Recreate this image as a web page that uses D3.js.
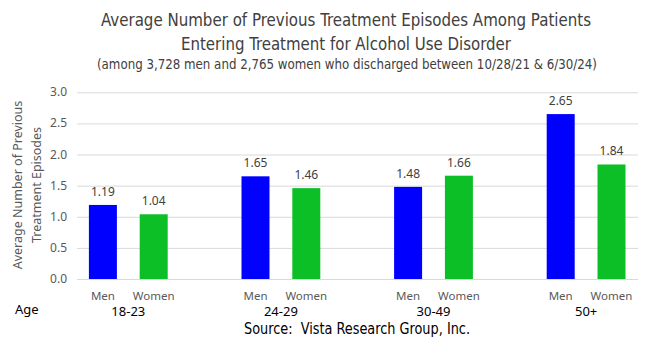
<html>
<head>
<script src="https://d3js.org/d3.v7.min.js"></script>
<style>
  body { margin: 0; background: #fff; }
  .grid line { stroke: #d9d9d9; }
  .grid .domain { display: none; }
</style>
</head>
<body>
<svg id="chart" width="650" height="353"></svg>
<script>
// data
const ageGroups = ["18-23", "24-29", "30-49", "50+"];
const sexes = ["Men", "Women"];
const menValues = [1.19, 1.65, 1.48, 2.65];
const womenValues = [1.04, 1.46, 1.66, 1.84];
const yTicks = [0, 0.5, 1.0, 1.5, 2.0, 2.5, 3.0];
const titleLines = ["Average Number of Previous Treatment Episodes Among Patients",
                    "Entering Treatment for Alcohol Use Disorder"];
const subtitle = "(among 3,728 men and 2,765 women who discharged between 10/28/21 & 6/30/24)";
const yTitle = ["Average Number of Previous", "Treatment Episodes"];

const colors = { Men: "#0000ff", Women: "#0dbf26" };
const rows = ageGroups.map((g, i) => ({ group: g, Men: menValues[i], Women: womenValues[i] }));

const svg = d3.select("#chart");
const condensed = "'Liberation Sans Narrow', 'DejaVu Sans Condensed', sans-serif";
const plain = "'Noto Sans', 'Open Sans', sans-serif";

const gridLeft = 77, gridRight = 638;
const y = d3.scaleLinear().domain([0, 3]).range([279, 92.3]);
const x0 = d3.scaleBand().domain(ageGroups).range([52, 662.4]);
const x1 = d3.scaleBand().domain(sexes)
  .range([x0.bandwidth() / 2 - 50.8, x0.bandwidth() / 2 + 50.8]);
const barW = 28;

// gridlines
svg.append("g").attr("class", "grid")
  .attr("transform", "translate(" + gridLeft + ",0)")
  .call(d3.axisLeft(y).tickValues(yTicks).tickSize(-(gridRight - gridLeft)).tickFormat(""))
  .call(g => g.selectAll(".tick line").attr("stroke", "#d9d9d9"));

// y tick labels
svg.append("g").selectAll("text").data(yTicks).join("text")
  .attr("x", 67).attr("y", d => y(d) + 4)
  .attr("text-anchor", "end")
  .style("font", "12px " + plain).attr("fill", "#595959")
  .text(d => d.toFixed(1));

// bars
const groups = svg.append("g").selectAll("g").data(rows).join("g")
  .attr("transform", d => "translate(" + x0(d.group) + ",0)");

groups.selectAll("rect").data(d => sexes.map(s => ({ key: s, value: d[s] }))).join("rect")
  .attr("x", d => x1(d.key) + x1.bandwidth() / 2 - barW / 2)
  .attr("width", barW)
  .attr("y", d => y(d.value))
  .attr("height", d => y(0) - y(d.value))
  .attr("fill", d => colors[d.key]);

groups.selectAll("text.val").data(d => sexes.map(s => ({ key: s, value: d[s] }))).join("text")
  .attr("class", "val")
  .attr("x", d => x1(d.key) + x1.bandwidth() / 2)
  .attr("y", d => y(d.value) - 9)
  .attr("text-anchor", "middle")
  .style("font", "12px " + plain).attr("fill", "#404040")
  .text(d => d.value.toFixed(2));

groups.selectAll("text.sex").data(sexes).join("text")
  .attr("class", "sex")
  .attr("x", d => x1(d) + x1.bandwidth() / 2)
  .attr("y", 300)
  .attr("text-anchor", "middle")
  .style("font", "11.5px " + plain).attr("fill", "#595959")
  .text(d => d);

groups.append("text")
  .attr("x", x0.bandwidth() / 2)
  .attr("y", 316)
  .attr("text-anchor", "middle")
  .style("font", "13px " + plain).attr("fill", "#000")
  .text(d => d.group);

svg.append("text").attr("x", 15).attr("y", 314)
  .style("font", "13px " + plain).attr("fill", "#000").text("Age");

// y axis title
svg.append("g").attr("transform", "translate(0,185) rotate(-90)")
  .selectAll("text").data(yTitle).join("text")
  .attr("x", 0).attr("y", (d, i) => 22 + i * 19)
  .attr("text-anchor", "middle")
  .style("font", "12.5px " + plain).attr("fill", "#595959")
  .text(d => d);

// titles
svg.selectAll("text.title").data(titleLines).join("text")
  .attr("class", "title")
  .attr("x", (d, i) => i ? 346 : 346).attr("y", (d, i) => 26 + i * 23.5)
  .attr("text-anchor", "middle")
  .attr("textLength", (d, i) => i ? 330 : 490)
  .attr("lengthAdjust", "spacingAndGlyphs")
  .style("font", "17.5px " + condensed).attr("fill", "#404040")
  .text(d => d);

svg.append("text").attr("x", 347).attr("y", 69)
  .attr("text-anchor", "middle")
  .attr("textLength", 500).attr("lengthAdjust", "spacingAndGlyphs")
  .style("font", "13.5px " + condensed).attr("fill", "#404040")
  .text(subtitle);

svg.append("text").attr("x", 357).attr("y", 334)
  .attr("text-anchor", "middle")
  .attr("textLength", 226).attr("lengthAdjust", "spacingAndGlyphs")
  .style("font", "15px " + condensed).attr("fill", "#000")
  .attr("xml:space", "preserve")
  .text("Source:  Vista Research Group, Inc.");
</script>
</body>
</html>
